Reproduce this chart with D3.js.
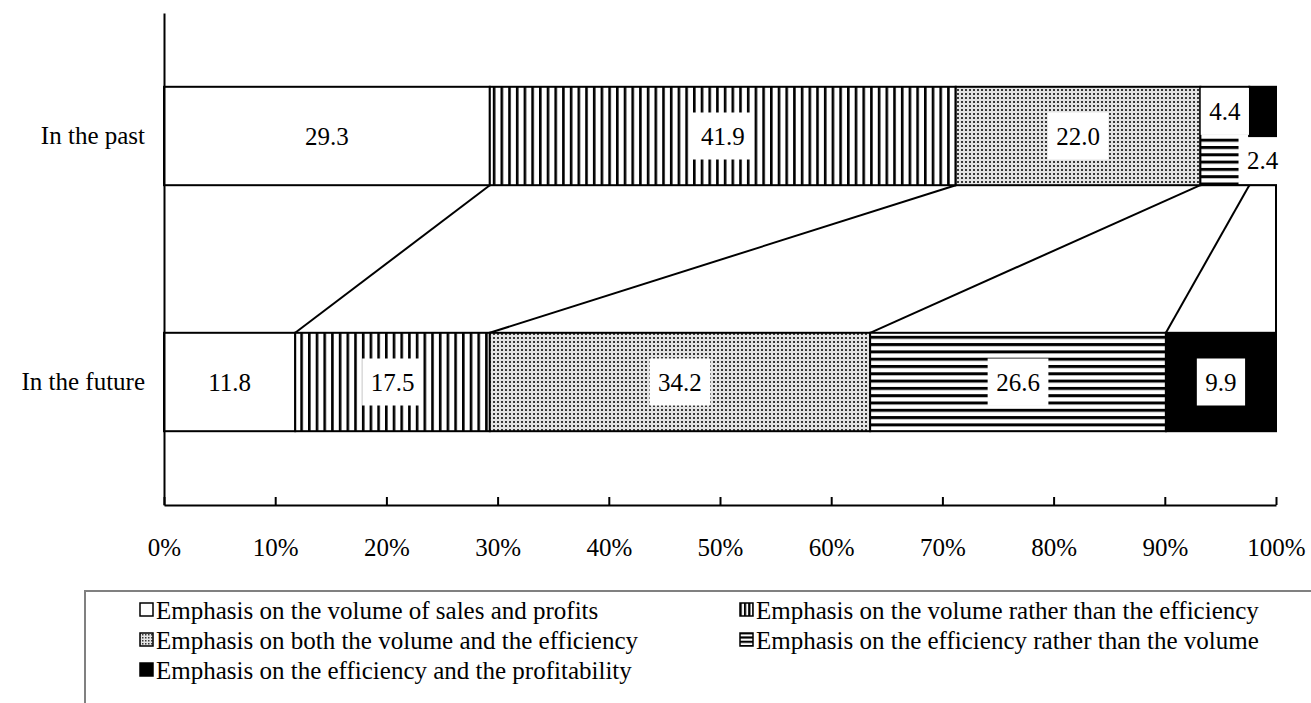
<!DOCTYPE html>
<html>
<head>
<meta charset="utf-8">
<script src="https://cdn.jsdelivr.net/npm/d3@7"></script>
<style>
  html, body { margin: 0; padding: 0; background: #fff; }
  svg { display: block; }
</style>
</head>
<body>
<svg id="chart" width="1311" height="703"></svg>
<script>
// Categories (rows) and series (stacked segments), values in percent
const categories = ["In the past", "In the future"];
const seriesNames = [
  "Emphasis on the volume of sales and profits",
  "Emphasis on the volume rather than the efficiency",
  "Emphasis on both the volume and the efficiency",
  "Emphasis on the efficiency rather than the volume",
  "Emphasis on the efficiency and the profitability"
];
const pastValues   = [29.3, 41.9, 22.0, 4.4, 2.4];
const futureValues = [11.8, 17.5, 34.2, 26.6, 9.9];
const xTicks = [0, 10, 20, 30, 40, 50, 60, 70, 80, 90, 100];

const valuesByCategory = [pastValues, futureValues];

const svg = d3.select("#chart");
const FONT = 25;
const SERIF = "Liberation Serif";
// apply the serif face straight onto each text node
const serif = sel => sel.attr("font-family", SERIF).attr("font-size", FONT).attr("fill", "#000");

// ---- fill patterns ----
const defs = svg.append("defs");
function stripesV(id, period, lw) {
  const p = defs.append("pattern").attr("id", id).attr("patternUnits", "userSpaceOnUse")
    .attr("width", period).attr("height", 10);
  p.append("rect").attr("width", period).attr("height", 10).attr("fill", "#fff");
  p.append("rect").attr("x", 0).attr("width", lw).attr("height", 10).attr("fill", "#000");
}
function stripesH(id, period, lw) {
  const p = defs.append("pattern").attr("id", id).attr("patternUnits", "userSpaceOnUse")
    .attr("width", 10).attr("height", period);
  p.append("rect").attr("width", 10).attr("height", period).attr("fill", "#fff");
  p.append("rect").attr("y", 0).attr("width", 10).attr("height", lw).attr("fill", "#000");
}
function dots(id, size, dot) {
  const p = defs.append("pattern").attr("id", id).attr("patternUnits", "userSpaceOnUse")
    .attr("width", size).attr("height", size);
  p.append("rect").attr("width", size).attr("height", size).attr("fill", "#e4e4e4");
  p.append("rect").attr("x", 1).attr("y", 1).attr("width", dot).attr("height", dot).attr("fill", "#3a3a3a");
}
stripesV("vstripe", 7.7, 2.6);
stripesH("hstripe", 7.3, 3);
dots("dotfill", 4, 2);
stripesV("vstripeSmall", 4.3, 2.2);
stripesH("hstripeSmall", 4.3, 2.2);
dots("dotSmall", 3, 1.5);

const fills = ["#fff", "url(#vstripe)", "url(#dotfill)", "url(#hstripe)", "#000"];
const legendFills = ["#fff", "url(#vstripeSmall)", "url(#dotSmall)", "url(#hstripeSmall)", "#000"];

// ---- scales ----
const x = d3.scaleLinear().domain([0, 100]).range([164, 1276]);
const y = d3.scaleBand().domain(categories).range([13, 505])
  .paddingInner(0.6).paddingOuter(0.3);

// stacked extents per category
const stacks = valuesByCategory.map(vals => {
  let acc = 0;
  return vals.map((v, i) => { const s = acc; acc += v; return { i, v, x0: s, x1: acc }; });
});

// ---- series lines connecting the segment ends between the two bars ----
const gLines = svg.append("g");
const pastBottom = y(categories[0]) + y.bandwidth();
const futureTop = y(categories[1]);
stacks[0].forEach((seg, i) => {
  gLines.append("line")
    .attr("x1", x(seg.x1)).attr("y1", pastBottom)
    .attr("x2", x(stacks[1][i].x1)).attr("y2", futureTop)
    .attr("stroke", "#000").attr("stroke-width", 2);
});

// ---- bars ----
const gBars = svg.append("g");
categories.forEach((cat, ci) => {
  gBars.selectAll(null).data(stacks[ci]).enter().append("rect")
    .attr("x", d => x(d.x0))
    .attr("y", y(cat))
    .attr("width", d => x(d.x1) - x(d.x0))
    .attr("height", y.bandwidth())
    .attr("fill", d => fills[d.i])
    .attr("stroke", "#000").attr("stroke-width", 2);
});

// ---- axes ----
const xAxis = svg.append("g").attr("transform", `translate(0,${y.range()[1]})`)
  .call(d3.axisBottom(x).tickValues(xTicks).tickSize(-8).tickSizeOuter(0)
    .tickPadding(33).tickFormat(d => d + "%"));
xAxis.select(".domain").attr("stroke-width", 2);
xAxis.selectAll(".tick line").attr("stroke-width", 2);
xAxis.selectAll("text").call(serif);

const yAxis = svg.append("g").attr("transform", `translate(${x(0)},0)`)
  .call(d3.axisLeft(y).tickSize(0).tickSizeOuter(0).tickPadding(19));
yAxis.select(".domain").attr("stroke-width", 2);
yAxis.selectAll("text").call(serif);

// ---- value labels on white boxes ----
const gLabels = svg.append("g");
categories.forEach((cat, ci) => {
  let small = 0;
  stacks[ci].forEach(d => {
    const cx = (x(d.x0) + x(d.x1)) / 2;
    let cy = y(cat) + y.bandwidth() / 2;
    // narrow segments: stagger labels above and below the bar centre
    if (d.v < 5) { cy += (small % 2 === 0 ? -1 : 1) * y.bandwidth() / 4; small++; }
    const g = gLabels.append("g");
    const t = g.append("text").attr("x", cx).attr("y", cy)
      .attr("text-anchor", "middle").attr("dominant-baseline", "central")
      .call(serif).text(d.v.toFixed(1));
    const w = t.node().getComputedTextLength() + 17;
    g.insert("rect", "text").attr("x", cx - w / 2).attr("y", cy - 23.5)
      .attr("width", w).attr("height", 47).attr("fill", "#fff");
  });
});

// ---- legend ----
const gLeg = svg.append("g");
gLeg.append("rect").attr("x", 85).attr("y", 591).attr("width", 1240).attr("height", 130)
  .attr("fill", "none").attr("stroke", "#808080").attr("stroke-width", 2);
const legCols = [140, 740];
const legRows = [610, 640, 670];
seriesNames.forEach((name, i) => {
  const lx = legCols[i % 2], ly = legRows[Math.floor(i / 2)];
  gLeg.append("rect").attr("x", lx).attr("y", ly - 7).attr("width", 13).attr("height", 13)
    .attr("fill", legendFills[i]).attr("stroke", "#000").attr("stroke-width", 1.5);
  gLeg.append("text").attr("x", lx + 16).attr("y", ly)
    .attr("dominant-baseline", "central").call(serif).text(name);
});
</script>
</body>
</html>
